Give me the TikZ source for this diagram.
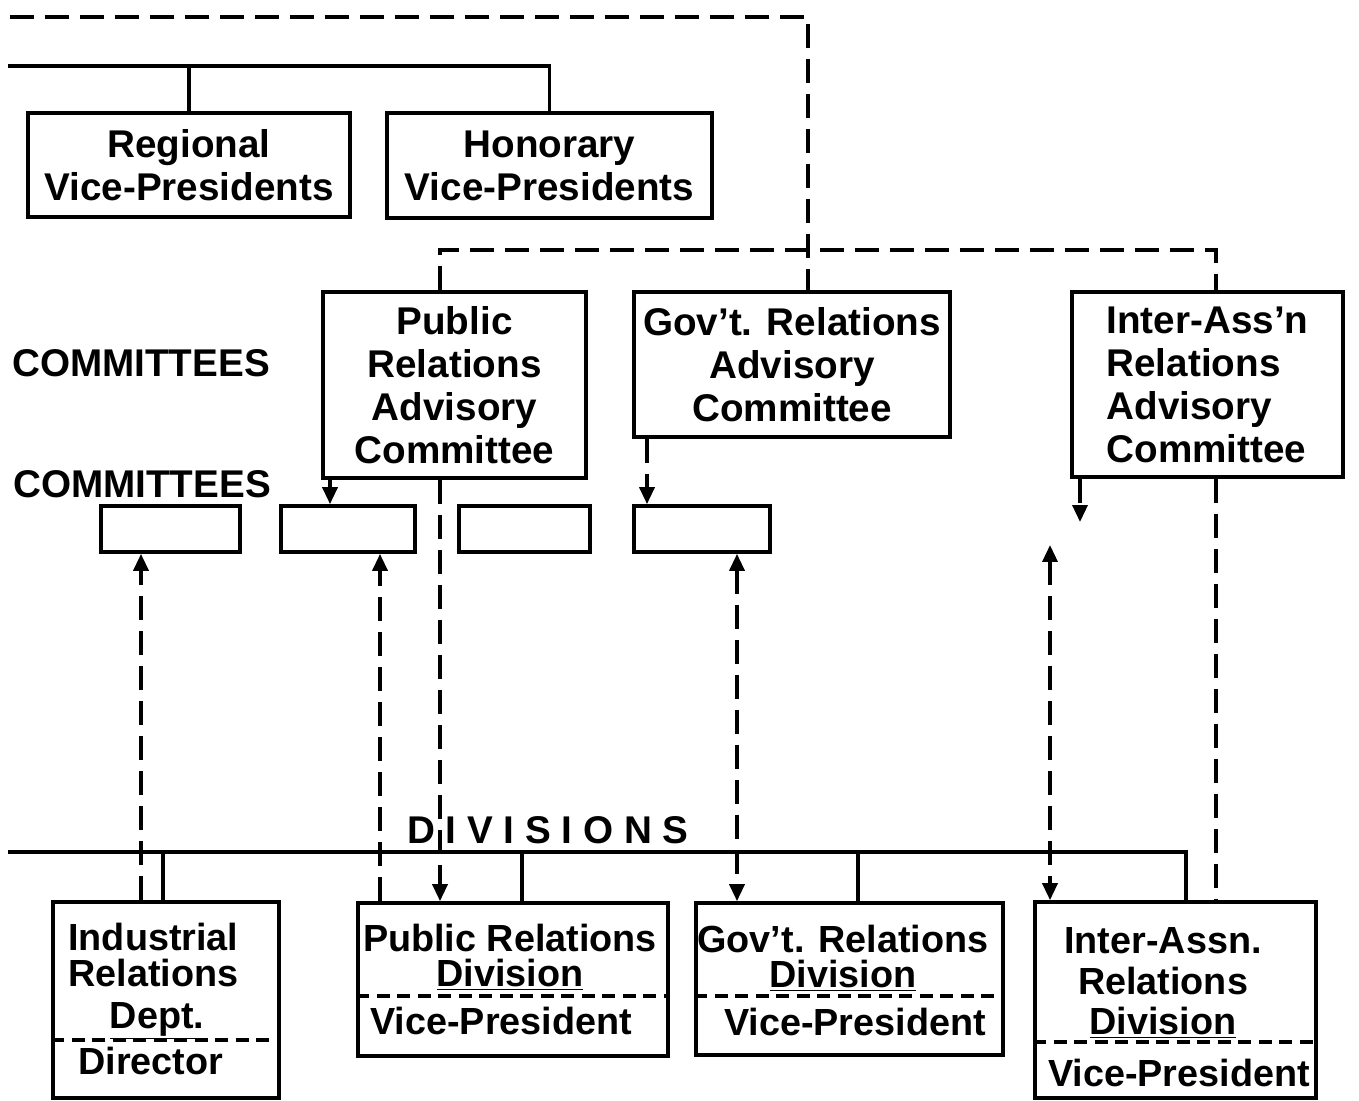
\documentclass[tikz,border=0pt]{standalone}
\usepackage{fontspec}
\setmainfont{Liberation Sans}
\usetikzlibrary{arrows.meta,positioning,calc}

\begin{document}
\begin{tikzpicture}[
    x=0.02cm, y=-0.02cm,
    box/.style={rectangle, draw, line width=2.1pt, inner sep=0pt, font=\bfseries\fontsize{22}{24.5}\selectfont, align=center},
    slot/.style={rectangle, draw, line width=2.1pt, inner sep=0pt, minimum height=0.92cm},
    txt/.style={inner sep=0pt, font=\bfseries\fontsize{21.5}{20}\selectfont},
    head/.style={inner sep=0pt, font=\bfseries\fontsize{22}{24}\selectfont},
    bus/.style={line width=2.1pt},
    link/.style={line width=2pt, dash pattern=on 0.48cm off 0.22cm},
    split/.style={line width=1.8pt, dash pattern=on 0.26cm off 0.15cm},
    onehead/.style={-{Triangle[length=0.34cm, width=0.3cm]}},
    twohead/.style={{Triangle[length=0.34cm, width=0.3cm]}-{Triangle[length=0.34cm, width=0.3cm]}},
]
    \useasboundingbox (0,0) rectangle (1359,1101);

    % vice-presidents
    \node[box, minimum width=6.44cm, minimum height=2.08cm] (regvp) at (189,165) {Regional\\Vice-Presidents};
    \node[box, minimum width=6.5cm, minimum height=2.1cm] (honvp) at (549.5,165.5) {Honorary\\Vice-Presidents};

    % advisory committees
    \node[box, minimum width=5.26cm, minimum height=3.72cm] (prcom) at (454.5,385) {Public\\Relations\\Advisory\\Committee};
    \node[box, minimum width=6.32cm, minimum height=2.9cm] (govcom) at (792,364.5) {Gov't. Relations\\Advisory\\Committee};
    \node[box, align=left, minimum width=5.42cm, minimum height=3.7cm] (iacom) at (1207.5,384.5) {Inter-Ass'n\\Relations\\Advisory\\Committee};

    \node[head] (comlbl) at (141,363) {COMMITTEES};
    \node[head] (sublbl) at (142,484) {COMMITTEES};

    % committee slots
    \node[slot, minimum width=2.78cm] (slota) at (170.5,529) {};
    \node[slot, minimum width=2.68cm] (slotb) at (348,529) {};
    \node[slot, minimum width=2.62cm] (slotc) at (524.5,529) {};
    \node[slot, minimum width=2.72cm] (slotd) at (702,529) {};

    % divisions
    \node[head] (divlbl) at (548,830) {D I V I S I O N S};
    \node[box, minimum width=4.52cm, minimum height=3.92cm] (inddiv) at (166,1000) {};
    \node[box, minimum width=6.2cm, minimum height=3.06cm] (prdiv) at (513,979.5) {};
    \node[box, minimum width=6.14cm, minimum height=3.04cm] (govdiv) at (849.5,979) {};
    \node[box, minimum width=5.62cm, minimum height=3.92cm] (iadiv) at (1175.5,1000) {};

    \node[txt, anchor=west, align=left] (indname) at (68,955) {Industrial\\Relations};
    \node[txt] (inddept) at (157,1021) {\underline{Dept.}};
    \node[txt, anchor=west] (indhead) at (78,1061) {Director};
    \node[txt, align=center] (prname) at (510,957) {Public Relations\\\underline{Division}};
    \node[txt, anchor=west] (prhead) at (370,1021) {Vice-President};
    \node[txt, align=center] (govname) at (843,958) {Gov't. Relations\\\underline{Division}};
    \node[txt] (govhead) at (855,1022) {Vice-President};
    \node[txt, align=center, font=\bfseries\fontsize{21.5}{23}\selectfont] (ianame) at (1163,983) {Inter-Assn.\\Relations\\\underline{Division}};
    \node[txt] (iahead) at (1179,1073) {Vice-President};

    % dashed splits
    \coordinate (cutind) at (0,1040);
    \coordinate (cutpr) at (0,996);
    \coordinate (cutia) at (0,1042);
    \draw[split] (inddiv.west |- cutind) -- (inddiv.east |- cutind);
    \draw[split] (prdiv.west |- cutpr) -- (prdiv.east |- cutpr);
    \draw[split] (govdiv.west |- cutpr) -- (govdiv.east |- cutpr);
    \draw[split] (iadiv.west |- cutia) -- (iadiv.east |- cutia);

    % solid lines
    \coordinate (vpstart) at (8,66);
    \draw[bus] (vpstart) -| (honvp.north);
    \draw[bus] (regvp.north) -- (regvp.north |- vpstart);
    \coordinate (divstart) at (8,852);
    \coordinate (divend) at (1186,852);
    \draw[bus] (divstart) -- (divend) -- (divend |- iadiv.north);
    \foreach \b/\x in {inddiv/163, prdiv/522, govdiv/858} {
        \coordinate (drop) at (\x,852);
        \draw[bus] (drop) -- (drop |- \b.north);
    }

    % dashed lines
    \coordinate (topstart) at (10,17);
    \coordinate (topturn) at (808,17);
    \draw[link] (topstart) -- (topturn) -- (topturn |- govcom.north);
    \coordinate (advleft) at (440,250);
    \coordinate (advright) at (1216,250);
    \draw[link] (prcom.north -| advleft) |- (advright) -- (advright |- iacom.north);

    \coordinate (xa) at (330,0);
    \coordinate (xb) at (647,0);
    \coordinate (xc) at (1080,0);
    \coordinate (iafree) at (1080,522);
    \coordinate (xd) at (141,0);
    \coordinate (xe) at (380,0);
    \coordinate (xf) at (440,0);
    \coordinate (xg) at (737,0);
    \coordinate (iaup) at (1050,545);
    \coordinate (xh) at (1216,0);
    \draw[link, onehead] (prcom.south -| xa) -- (xa |- slotb.north);
    \draw[link, onehead] (govcom.south -| xb) -- (xb |- slotd.north);
    \draw[link, onehead] (iacom.south -| xc) -- (iafree);
    \draw[link, onehead] (inddiv.north -| xd) -- (xd |- slota.south);
    \draw[link, onehead] (prdiv.north -| xe) -- (xe |- slotb.south);
    \draw[link, onehead] (prcom.south -| xf) -- (xf |- prdiv.north);
    \draw[link, twohead] (slotd.south -| xg) -- (xg |- govdiv.north);
    \draw[link, twohead] (iaup) -- (iaup |- iadiv.north);
    \draw[link] (iacom.south -| xh) -- (xh |- iadiv.north);
\end{tikzpicture}
\end{document}
